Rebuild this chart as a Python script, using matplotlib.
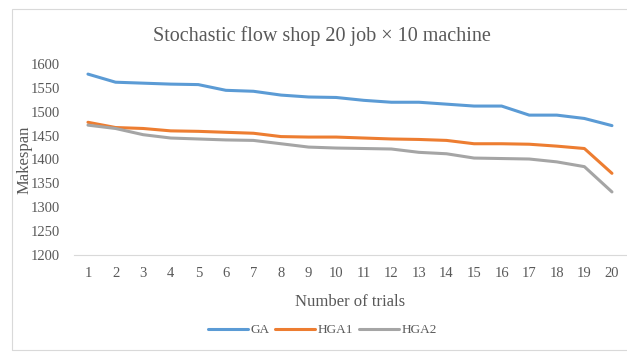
import matplotlib
matplotlib.use("Agg")
import matplotlib.pyplot as plt
from matplotlib.patches import Rectangle

trials = list(range(1, 21))
ga = [1579, 1562, 1560, 1558, 1557, 1545, 1543, 1535, 1531, 1530,
      1524, 1520, 1520, 1516, 1512, 1512, 1493, 1493, 1486, 1471]
hga1 = [1478, 1467, 1465, 1460, 1459, 1457, 1455, 1448, 1447, 1447,
        1445, 1443, 1442, 1440, 1433, 1433, 1432, 1428, 1423, 1371]
hga2 = [1472, 1465, 1452, 1445, 1443, 1441, 1440, 1433, 1426, 1424,
        1423, 1422, 1415, 1412, 1403, 1402, 1401, 1395, 1385, 1332]
y_ticks = [1200, 1250, 1300, 1350, 1400, 1450, 1500, 1550, 1600]

plt.rcParams['font.family'] = ['Liberation Serif', 'DejaVu Serif']

fig = plt.figure(figsize=(6.27, 3.56), dpi=100)
ax = fig.add_axes([0.1183, 0.284, 0.8797, 0.536])

ax.plot(trials, ga, color='#5B9BD5', lw=2.2, label='GA', solid_capstyle='round')
ax.plot(trials, hga1, color='#ED7D31', lw=2.2, label='HGA1', solid_capstyle='round')
ax.plot(trials, hga2, color='#A5A5A5', lw=2.2, label='HGA2', solid_capstyle='round')

ax.set_xlim(0.5, 20.5)
ax.set_ylim(1200, 1600)
ax.set_xticks(trials)
ax.set_yticks(y_ticks)
ax.tick_params(axis='both', length=0, labelsize=10.5, colors='#595959')
ax.tick_params(axis='x', pad=9)
ax.tick_params(axis='y', pad=10)
for s in ['top', 'right', 'left']:
    ax.spines[s].set_visible(False)
ax.spines['bottom'].set_color('#D9D9D9')

ax.set_xlabel('Number of trials', fontsize=12, color='#595959', labelpad=10)
ax.set_ylabel('Makespan', fontsize=12, color='#595959')
ax.yaxis.set_label_coords(-0.076, 0.5)
fig.text(0.514, 0.898, 'Stochastic flow shop 20 job \u00d7 10 machine',
         ha='center', va='center', fontsize=14.5, color='#595959')

fig.legend(loc='center', bbox_to_anchor=(0.514, 0.072), ncol=3, frameon=False,
           fontsize=9.5, handlelength=3.0, columnspacing=0.45, handletextpad=0.2,
           labelcolor='#595959')

fig.patches.append(Rectangle((0.019, 0.017), 1.0, 0.958, transform=fig.transFigure,
                             fill=False, edgecolor='#D9D9D9', lw=0.8))

fig.savefig('out.png', dpi=100)
